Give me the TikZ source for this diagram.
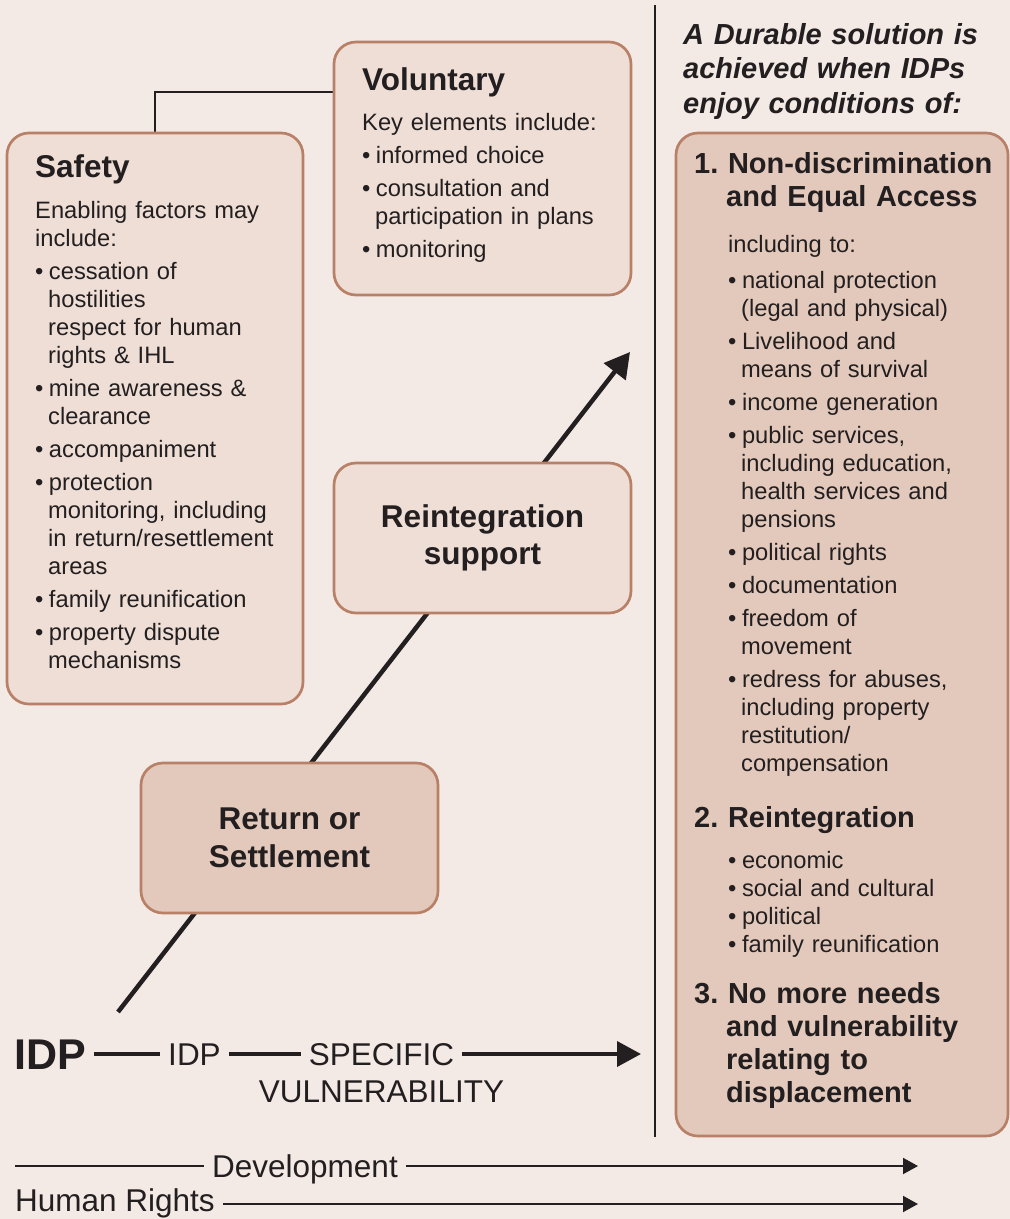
\documentclass[tikz,border=0pt]{standalone}
\usepackage{fontspec}
\setmainfont{Liberation Sans}
\usepackage{xcolor}
\usepackage{tikz}
\usetikzlibrary{arrows.meta, positioning, backgrounds}

\definecolor{bgpaper}{HTML}{F3EAE5}
\definecolor{boxlight}{HTML}{EEDED5}
\definecolor{boxdark}{HTML}{E3C9BC}
\definecolor{boxedge}{HTML}{B88167}
\definecolor{inkdark}{HTML}{231F20}

\newcommand{\bul}{\textbullet\hspace{5.5pt}}
\newcommand{\wrapline}{\\\hspace*{13pt}}

\begin{document}
\begin{tikzpicture}[x=1pt, y=-1pt]
        \tikzset{
            lightbox/.style={rectangle, draw=boxedge, line width=2.7pt, rounded corners=22pt, fill=boxlight, inner sep=0pt, outer sep=0pt, anchor=north west},
            darkbox/.style={lightbox, fill=boxdark},
            stagebox/.style={rectangle, draw=boxedge, line width=2.7pt, rounded corners=22pt, minimum width=297pt, minimum height=150pt, align=center, text=inkdark, font=\fontsize{31.5}{37.5}\selectfont\bfseries},
            boxtitle/.style={anchor=base west, inner sep=0pt, text=inkdark, font=\fontsize{31.5}{37.5}\selectfont\bfseries},
            boxtext/.style={anchor=base west, inner sep=0pt, text=inkdark, align=left, font=\fontsize{23.7}{28}\selectfont},
            condhead/.style={anchor=base west, inner sep=0pt, text=inkdark, align=left, text width=330pt, font=\fontsize{29}{33}\selectfont\bfseries\frenchspacing},
            flowtxt/.style={inner xsep=8pt, inner ysep=0pt, text height=22.5pt, text depth=0pt, text=inkdark, font=\fontsize{31.5}{37.5}\selectfont},
            idptxt/.style={flowtxt, text height=31pt, font=\fontsize{43}{48}\selectfont\bfseries},
            linkline/.style={draw=inkdark, line width=2pt},
            idpline/.style={draw=inkdark, line width=3.8pt},
            pathline/.style={draw=inkdark, line width=4.5pt, -{Triangle[length=25pt,width=27pt]}}
        }
        \useasboundingbox (0,0) rectangle (1010,1219);

        \node[lightbox, minimum width=296pt, minimum height=571pt] (safety) at (7,133) {};
        \node[boxtitle] (safetytitle) at ([xshift=28pt,yshift=-44pt]safety.north west) {Safety};
        \node[boxtext, text width=262pt] (safetylist) at ([xshift=28pt,yshift=-85pt]safety.north west) {Enabling factors may\\include:\\[5pt]\bul cessation of\wrapline hostilities\wrapline respect for human\wrapline rights \& IHL\\[5pt]\bul mine awareness \&\wrapline clearance\\[5pt]\bul accompaniment\\[5pt]\bul protection\wrapline monitoring, including\wrapline in return/resettlement\wrapline areas\\[5pt]\bul family reunification\\[5pt]\bul property dispute\wrapline mechanisms};

        \node[lightbox, minimum width=297pt, minimum height=253pt] (voluntary) at (334,42) {};
        \node[boxtitle] (voluntarytitle) at ([xshift=28pt,yshift=-48pt]voluntary.north west) {Voluntary};
        \node[boxtext, text width=262pt] (voluntarylist) at ([xshift=28pt,yshift=-88pt]voluntary.north west) {Key elements include:\\[5pt]\bul informed choice\\[5pt]\bul consultation and\wrapline participation in plans\\[5pt]\bul monitoring};

        \node[stagebox, fill=boxlight] (support) at (482.5,538) {Reintegration\\support};
        \node[stagebox, fill=boxdark] (settle) at (289.5,838) {Return or\\Settlement};

        \node[darkbox, minimum width=332pt, minimum height=1003pt] (conditions) at (676,133) {};
        \node[anchor=base west, inner sep=0pt, text=inkdark, align=left, text width=330pt, font=\fontsize{29}{34.5}\selectfont\bfseries\itshape] (durable) at ([xshift=7pt,yshift=89pt]conditions.north west) {A Durable solution is\\achieved when IDPs\\enjoy conditions of:};
        \node[condhead] (access) at ([xshift=18pt,yshift=-40pt]conditions.north west) {1. Non-discrimination\\\hspace*{32pt}and Equal Access};
        \node[boxtext, text width=270pt] (accesslist) at ([xshift=52pt,yshift=-119pt]conditions.north west) {including to:\\[8pt]\bul national protection\wrapline (legal and physical)\\[5pt]\bul Livelihood and\wrapline means of survival\\[5pt]\bul income generation\\[5pt]\bul public services,\wrapline including education,\wrapline health services and\wrapline pensions\\[5pt]\bul political rights\\[5pt]\bul documentation\\[5pt]\bul freedom of\wrapline movement\\[5pt]\bul redress for abuses,\wrapline including property\wrapline restitution/\wrapline compensation};
        \node[condhead] (reint) at ([xshift=18pt,yshift=-694pt]conditions.north west) {2. Reintegration};
        \node[boxtext, text width=270pt] (reintlist) at ([xshift=52pt,yshift=-735pt]conditions.north west) {\bul economic\\\bul social and cultural\\\bul political\\\bul family reunification};
        \node[condhead] (needs) at ([xshift=18pt,yshift=-870pt]conditions.north west) {3. No more needs\\\hspace*{32pt}and vulnerability\\\hspace*{32pt}relating to\\\hspace*{32pt}displacement};

        \node[idptxt] (idp) at (50,1054) {IDP};
        \node[flowtxt] (idpsmall) at (194.5,1054) {IDP};
        \node[flowtxt] (specific) at (381.5,1054) {SPECIFIC};
        \node[flowtxt, below=14.5pt of specific] (vulnerability) {VULNERABILITY};
        \coordinate (flowend) at (641,1054);
        \draw[idpline] (idp) -- (idpsmall);
        \draw[idpline] (idpsmall) -- (specific);
        \draw[idpline, -{Triangle[length=24pt,width=25pt]}] (specific) -- (flowend);

        \coordinate (devstart) at (15,1166);
        \coordinate (devend) at (918,1166);
        \node[flowtxt] (development) at (305,1166) {Development};
        \draw[linkline] (devstart) -- (development);
        \draw[linkline, -{Triangle[length=15pt,width=16pt]}] (development) -- (devend);

        \coordinate (rightsend) at (918,1204);
        \node[flowtxt, text depth=7pt] (humanrights) at (115,1204) {Human Rights};
        \draw[linkline, -{Triangle[length=15pt,width=16pt]}] (humanrights) -- (rightsend);

        \draw[linkline] (655,5) -- (655,1137);

        \coordinate (idpstart) at (118,1012);
        \coordinate (goal) at (630,352);
        \begin{scope}[on background layer]
            \fill[bgpaper] (0,0) rectangle (1010,1219);
            \draw[linkline] (safety.north) |- ([yshift=-50pt]voluntary.north west);
            \draw[pathline] (idpstart) -- (goal);
        \end{scope}
\end{tikzpicture}
\end{document}
